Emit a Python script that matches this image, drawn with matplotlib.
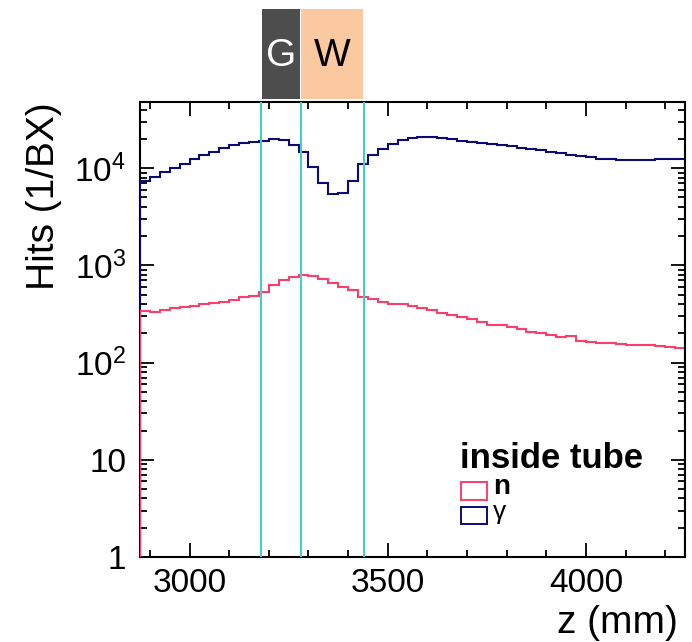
import matplotlib
matplotlib.use("Agg")
import matplotlib.pyplot as plt
import matplotlib.transforms as mtransforms
from matplotlib.patches import Rectangle
from matplotlib.ticker import MultipleLocator, LogLocator, NullFormatter
import numpy as np

plt.rcParams['font.family'] = ['Liberation Sans', 'DejaVu Sans']
plt.rcParams['mathtext.default'] = 'regular'

# binning of the z histograms (mm)
z_lo = 2875
z_hi = 4250
z_step = 25

# hits per bunch crossing, one value per 25 mm bin
gamma_hits = [7310, 8120, 9050, 10050, 11130, 12440, 13780, 14790, 16000, 17340,
              18030, 18750, 19210, 19820, 19350, 17180, 14550, 10290, 7040, 5460,
              5590, 7430, 11130, 13780, 15780, 17760, 19530, 20470, 20780, 20780,
              20470, 19820, 19210, 18620, 18190, 17760, 17180, 16780, 16260, 15780,
              15260, 14690, 14210, 13780, 13230, 12920, 12530, 12440, 12240, 12150,
              12150, 12240, 12320, 12440, 12530]
neutron_hits = [342, 332, 348, 362, 373, 385, 398, 411, 424, 444,
                470, 481, 529, 630, 709, 766, 792, 780, 726, 660,
                600, 559, 477, 448, 424, 404, 398, 385, 362, 345,
                326, 309, 294, 283, 262, 245, 245, 234, 220, 206,
                203, 191, 182, 186, 168, 164, 161, 161, 155, 151,
                151, 151, 147, 144, 140]

# material regions along z
region_names = ["G", "W"]
region_start = [3180, 3280]
region_end = [3280, 3440]
region_fill = ['#4d4d4d', '#fbc9a0']
region_text = ['white', 'black']
boundary_z = [3180, 3280, 3440]

col_g = '#0b0b78'
col_n = '#ff3d6b'
col_cyan = '#45cccc'

edges = np.arange(z_lo, z_hi + 1, z_step)

fig = plt.figure(figsize=(6.92, 6.42), dpi=100)
ax = fig.add_axes([140/692, 85/642, 545/692, 455/642])

ax.stairs(gamma_hits, edges, baseline=0.1, color=col_g, lw=1.5, zorder=3)
ax.stairs(neutron_hits, edges, baseline=0.1, color=col_n, lw=1.5, zorder=3)
for zb in boundary_z:
    ax.axvline(zb, color=col_cyan, lw=1.5, zorder=4)

ax.set_yscale('log')
ax.set_xlim(z_lo, z_hi)
ax.set_ylim(1, 4.8e4)

ax.xaxis.set_major_locator(MultipleLocator(500))
ax.xaxis.set_minor_locator(MultipleLocator(100))
ax.set_yticks([1, 10, 100, 1000, 10000],
              labels=['1', '10', '$10^{2}$', '$10^{3}$', '$10^{4}$'])
ax.yaxis.set_minor_locator(LogLocator(base=10, subs=np.arange(2, 10)))
ax.yaxis.set_minor_formatter(NullFormatter())

ax.tick_params(which='both', direction='in', top=True, right=True, width=1.3)
ax.tick_params(which='major', length=10, labelsize=24)
ax.tick_params(axis='x', which='major', pad=8)
ax.tick_params(axis='y', which='major', pad=10)
ax.tick_params(which='minor', length=5)
for s in ax.spines.values():
    s.set_linewidth(1.5)
    s.set_zorder(2.5)
ax.spines['right'].set_zorder(5)

ax.set_xlabel('z (mm)', fontsize=28, loc='right')
ax.xaxis.set_label_coords(0.987, -0.105)
ax.set_ylabel('Hits (1/BX)', fontsize=28, loc='top')
ax.yaxis.set_label_coords(-0.143, 1.0)

# region boxes above the frame
trans = mtransforms.blended_transform_factory(ax.transData, ax.transAxes)
for name, a, b, fc, tc in zip(region_names, region_start, region_end, region_fill, region_text):
    ax.add_patch(Rectangle((a + 2, 1.0066), b - a - 4, 0.198, transform=trans,
                           facecolor=fc, edgecolor='none', clip_on=False))
    ax.text((a + b) / 2, 1.102, name, transform=trans, ha='center', va='center',
            color=tc, fontsize=28, clip_on=False)

# legend
fig.text(460/692, 1 - 468/642, 'inside tube', fontweight='bold', fontsize=25, va='baseline')
fig.patches.append(Rectangle((461/692, 1 - 500/642), 26/692, 18/642, transform=fig.transFigure,
                             fill=False, edgecolor=col_n, lw=1.4))
fig.text(493/692, 1 - 494/642, 'n', fontweight='bold', fontsize=20, va='baseline')
fig.patches.append(Rectangle((461/692, 1 - 524/642), 26/692, 17/642, transform=fig.transFigure,
                             fill=False, edgecolor=col_g, lw=1.4))
fig.text(493/692, 1 - 519/642, 'γ', fontsize=19, va='baseline')

fig.savefig('out.png', dpi=100)
